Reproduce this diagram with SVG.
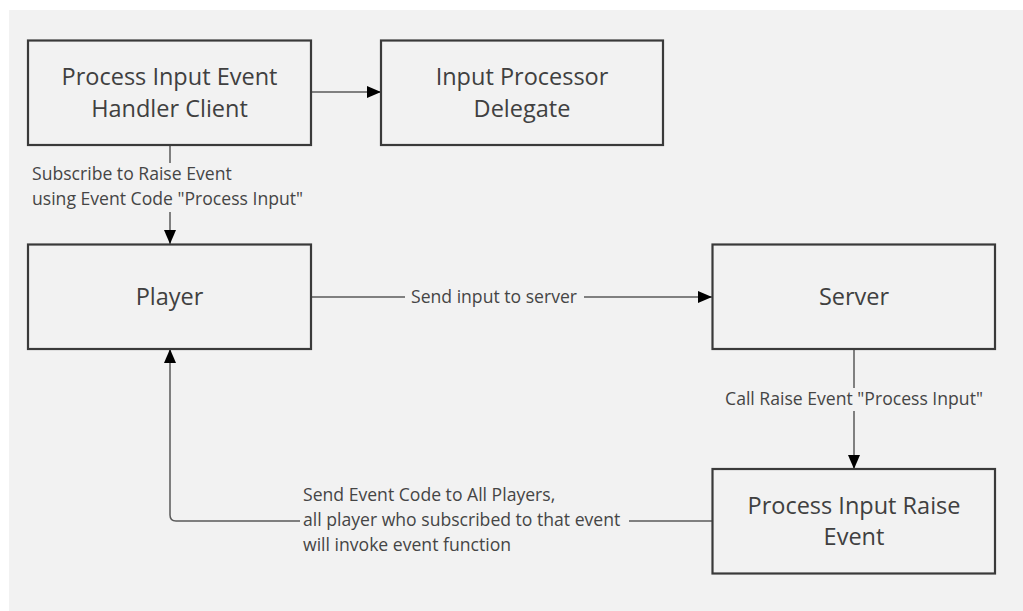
<svg xmlns="http://www.w3.org/2000/svg" width="1023" height="611" viewBox="0 0 1023 611">
  <defs>
    <style>
      .node rect { fill: #f2f2f2; stroke: #3a3a3a; stroke-width: 2.2; }
      .node text { font-family: "Open Sans", "Noto Sans", sans-serif; font-size: 23.5px; fill: #404040; text-anchor: middle; }
      .edge { fill: none; stroke: #5a5a5a; stroke-width: 1.5; }
      .lbl { font-family: "Open Sans", "Noto Sans", sans-serif; font-size: 17.6px; fill: #454545; }
    </style>
    <marker id="arrow" viewBox="0 0 14 12" refX="14" refY="6" markerWidth="14" markerHeight="12" markerUnits="userSpaceOnUse" orient="auto">
      <path d="M0,0 L14,6 L0,12 Z" fill="#000"/>
    </marker>
  </defs>

  <rect x="0" y="0" width="1023" height="611" fill="#ffffff"/>
  <rect x="9" y="10" width="1014" height="601" fill="#f2f2f2"/>

  <g id="connectors">
    <!-- handler client -> delegate -->
    <path class="edge" d="M311,92 L381,92" marker-end="url(#arrow)"/>
    <!-- handler client -> player -->
    <path class="edge" d="M170,145 L170,163"/>
    <path class="edge" d="M170,212 L170,244" marker-end="url(#arrow)"/>
    <text class="lbl" x="32" y="180">Subscribe to Raise Event</text>
    <text class="lbl" x="32" y="205">using Event Code "Process Input"</text>
    <!-- player -> server -->
    <path class="edge" d="M311,297 L405,297"/>
    <path class="edge" d="M584,297 L712,297" marker-end="url(#arrow)"/>
    <text class="lbl" x="494" y="303" text-anchor="middle">Send input to server</text>
    <!-- server -> raise event -->
    <path class="edge" d="M854,349 L854,388"/>
    <path class="edge" d="M854,411 L854,469" marker-end="url(#arrow)"/>
    <text class="lbl" x="854" y="405" text-anchor="middle">Call Raise Event "Process Input"</text>
    <!-- raise event -> player -->
    <path class="edge" d="M712,521 L629,521"/>
    <path class="edge" d="M300,521 L176,521 Q170,521 170,515 L170,349" marker-end="url(#arrow)"/>
    <text class="lbl" x="303" y="501">Send Event Code to All Players,</text>
    <text class="lbl" x="303" y="526">all player who subscribed to that event</text>
    <text class="lbl" x="303" y="551">will invoke event function</text>
  </g>

  <g id="handler-client" class="node">
    <rect x="28" y="40.5" width="283" height="104.5"/>
    <text x="169.5" y="85">Process Input Event</text>
    <text x="169.5" y="116.5">Handler Client</text>
  </g>

  <g id="input-processor-delegate" class="node">
    <rect x="381" y="40.5" width="282" height="104.5"/>
    <text x="522" y="85">Input Processor</text>
    <text x="522" y="116.5">Delegate</text>
  </g>

  <g id="player" class="node">
    <rect x="28" y="244.5" width="283" height="104.5"/>
    <text x="169.5" y="305">Player</text>
  </g>

  <g id="server" class="node">
    <rect x="712.5" y="244.5" width="282.5" height="104.5"/>
    <text x="854" y="305">Server</text>
  </g>

  <g id="raise-event" class="node">
    <rect x="712.5" y="469" width="282.5" height="104.5"/>
    <text x="854" y="513.5">Process Input Raise</text>
    <text x="854" y="545">Event</text>
  </g>
</svg>
